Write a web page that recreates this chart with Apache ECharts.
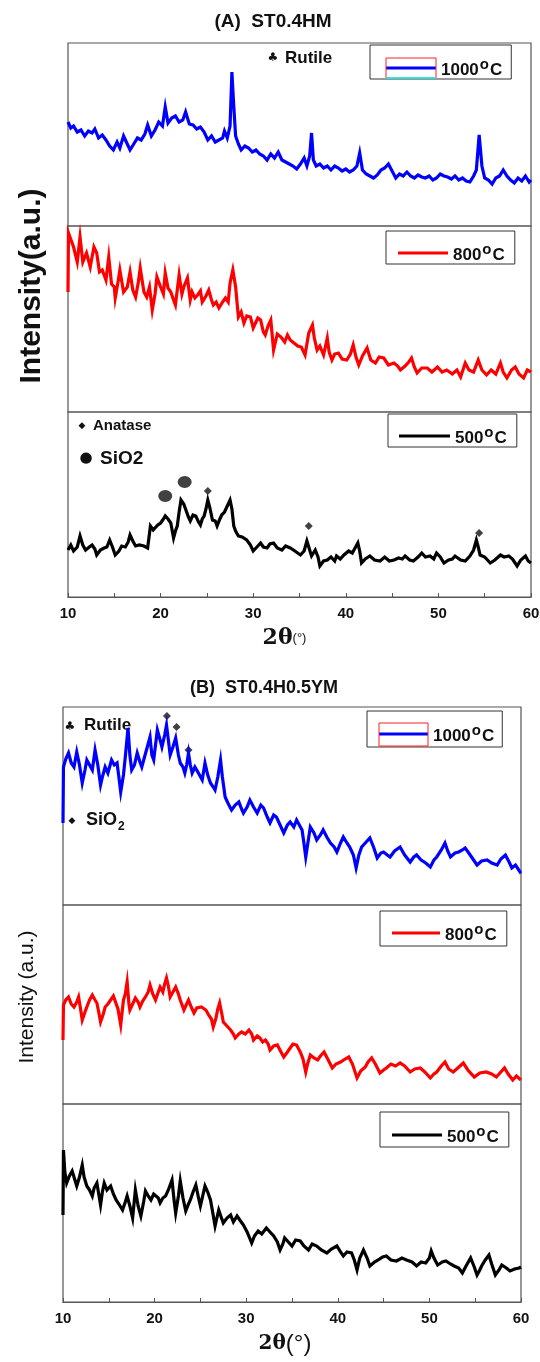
<!DOCTYPE html>
<html>
<head>
<meta charset="utf-8">
<script src="https://cdn.jsdelivr.net/npm/echarts@6/dist/echarts.min.js"></script>
<style>html,body{margin:0;background:#fff}#main{width:540px;height:1362px}</style>
</head>
<body>
<div id="main"></div>
<script>
var FONT = 'Liberation Sans, Arial, sans-serif';

// intensities are read as pixels above the bottom edge of each frame
var a1000 = [[10,104],[10.3,98],[10.6,100],[11,94],[11.4,96],[11.8,90],[12.2,95],[12.6,93],[12.9,97],[13.3,88],[13.7,91],[14.1,86],[14.5,80],[14.9,76],[15.3,84],[15.6,78],[16,90],[16.3,84],[16.7,76],[17.1,82],[17.5,88],[17.9,86],[18.3,92],[18.6,101],[19,90],[19.4,96],[19.8,104],[20.2,100],[20.5,119],[20.8,103],[21.2,108],[21.6,110],[22,104],[22.4,106],[22.7,114],[23.1,102],[23.5,101],[23.9,97],[24.3,99],[24.7,94],[25.1,86],[25.5,90],[25.9,84],[26.3,86],[26.7,88],[26.9,95],[27.2,88],[27.5,100],[27.7,154],[27.9,120],[28.1,90],[28.4,82],[28.7,76],[29.1,80],[29.5,78],[29.9,74],[30.3,76],[30.7,72],[31.1,70],[31.5,66],[31.9,72],[32.3,68],[32.7,74],[33.1,66],[33.5,64],[33.9,62],[34.3,60],[34.7,57],[35.1,62],[35.5,68],[35.8,60],[36.1,70],[36.3,93],[36.5,66],[36.8,60],[37.2,62],[37.6,58],[38,60],[38.4,56],[38.8,60],[39.2,58],[39.6,55],[40,57],[40.4,54],[40.8,56],[41.2,60],[41.5,73],[41.8,56],[42.2,52],[42.6,50],[43,48],[43.4,51],[43.8,56],[44.2,58],[44.6,62],[45,55],[45.4,48],[45.8,52],[46.2,50],[46.6,54],[47,50],[47.4,48],[47.8,51],[48.2,49],[48.6,48],[49,50],[49.4,46],[49.8,48],[50.2,52],[50.6,50],[51,49],[51.4,47],[51.8,50],[52.2,46],[52.6,48],[53,45],[53.4,44],[53.8,50],[54.1,56],[54.4,91],[54.7,60],[55,48],[55.4,46],[55.8,42],[56.2,48],[56.6,50],[57,56],[57.4,50],[57.8,46],[58.2,43],[58.6,48],[59,45],[59.4,50],[59.8,44],[60,46]];
var a800 = [[10,120],[10.05,179],[10.6,165],[11,150],[11.3,175],[11.6,150],[12,159],[12.4,145],[12.8,165],[13.1,159],[13.4,140],[13.7,142],[14.1,132],[14.4,155],[14.7,128],[15,125],[15.1,114],[15.4,130],[15.6,142],[16,120],[16.4,125],[16.7,140],[17,122],[17.3,115],[17.6,130],[17.8,144],[18.2,120],[18.5,115],[18.8,125],[19.1,102],[19.4,118],[19.6,135],[20,125],[20.3,118],[20.5,139],[20.8,124],[21.1,120],[21.4,112],[21.6,107],[22,137],[22.3,118],[22.5,125],[22.9,134],[23.2,112],[23.4,120],[23.7,114],[24,117],[24.3,121],[24.5,110],[24.9,116],[25.2,122],[25.5,112],[25.7,107],[26,110],[26.3,104],[26.7,110],[27,114],[27.3,110],[27.5,129],[27.8,142],[28.1,125],[28.4,95],[28.7,100],[29,89],[29.3,96],[29.7,95],[30,84],[30.2,82],[30.5,94],[30.8,92],[31.1,80],[31.3,77],[31.6,86],[31.9,92],[32.2,62],[32.6,78],[33,75],[33.4,70],[33.7,77],[34,72],[34.4,69],[34.8,66],[35.2,65],[35.6,57],[36,79],[36.4,87],[36.6,74],[36.9,62],[37.2,66],[37.6,57],[38,74],[38.2,60],[38.5,52],[38.8,58],[39.2,59],[39.6,53],[40.1,52],[40.5,58],[40.8,67],[41.1,55],[41.4,47],[41.8,56],[42.3,64],[42.7,52],[43.2,49],[43.6,55],[44.1,54],[44.6,47],[45.2,49],[45.6,46],[45.9,42],[46.4,46],[46.8,50],[47.1,54],[47.4,45],[47.7,39],[48.2,44],[48.8,44],[49.3,40],[49.9,45],[50.4,40],[50.9,42],[51.5,38],[52,42],[52.4,35],[52.9,49],[53.3,42],[53.8,40],[54.3,52],[54.7,42],[55.2,37],[55.7,42],[56.2,38],[56.7,49],[57,40],[57.4,34],[57.9,42],[58.3,45],[58.7,38],[59.2,34],[59.6,42],[60,40]];
var a500 = [[10,47],[10.3,52],[10.6,46],[11,50],[11.3,61],[11.6,52],[11.9,47],[12.3,50],[12.6,52],[12.9,48],[13.1,42],[13.5,47],[13.9,49],[14.2,50],[14.5,57],[14.8,50],[15.1,42],[15.5,46],[15.8,51],[16.2,50],[16.5,55],[16.7,62],[17,56],[17.3,51],[17.7,52],[18.2,51],[18.6,49],[18.9,71],[19.2,67],[19.4,69],[19.7,72],[20,74],[20.3,78],[20.5,81],[20.8,78],[21.1,74],[21.4,59],[21.6,66],[21.8,71],[22,85],[22.2,97],[22.5,93],[22.7,91],[23,80],[23.2,76],[23.5,82],[23.8,81],[24.1,75],[24.3,72],[24.5,78],[24.7,81],[24.9,88],[25.1,97],[25.3,90],[25.6,77],[25.9,76],[26.1,71],[26.4,78],[26.6,82],[26.9,85],[27.2,91],[27.5,97],[27.7,88],[27.9,71],[28.1,66],[28.4,61],[28.8,60],[29.3,57],[29.7,52],[30,46],[30.4,50],[30.8,54],[31.1,50],[31.5,49],[31.8,53],[32.2,54],[32.6,49],[33.1,47],[33.5,51],[34,49],[34.5,46],[35.1,42],[35.5,46],[35.8,56],[36.1,47],[36.3,41],[36.7,47],[37,40],[37.2,31],[37.6,36],[38,37],[38.4,40],[38.8,36],[39,41],[39.4,38],[39.8,42],[40.3,46],[40.7,44],[41,49],[41.3,54],[41.5,46],[41.7,34],[42.1,38],[42.6,41],[43.1,37],[43.7,36],[44.2,40],[44.7,36],[45.2,37],[45.7,39],[46.1,38],[46.4,41],[46.9,37],[47.3,36],[47.8,40],[48.2,44],[48.6,40],[49.1,41],[49.5,38],[49.8,44],[50.2,40],[50.6,34],[51.1,37],[51.5,38],[51.8,41],[52.4,37],[52.9,36],[53.4,41],[53.8,47],[54.1,57],[54.3,50],[54.5,42],[55,40],[55.3,37],[55.6,34],[56.1,37],[56.7,42],[57.1,40],[57.6,41],[58,38],[58.5,31],[58.9,37],[59.4,41],[59.7,36],[60,34]];
var b1000 = [[10,82],[10.05,138],[10.3,146],[10.6,152],[10.9,142],[11.2,138],[11.5,153],[11.8,140],[12.1,122],[12.4,135],[12.6,145],[12.9,140],[13.2,135],[13.5,155],[13.8,140],[14.1,120],[14.3,128],[14.6,138],[14.9,132],[15.3,145],[15.6,140],[15.9,142],[16.1,128],[16.3,113],[16.6,130],[16.8,148],[17.1,177],[17.3,150],[17.5,135],[17.8,140],[18.1,152],[18.4,143],[18.6,138],[18.9,148],[19.2,158],[19.5,168],[19.7,150],[19.9,145],[20.1,160],[20.3,175],[20.6,165],[20.8,158],[21.1,170],[21.3,180],[21.5,165],[21.7,150],[22,158],[22.3,167],[22.6,150],[22.8,142],[23.1,138],[23.3,132],[23.5,140],[23.7,152],[23.9,140],[24.1,132],[24.4,138],[24.6,135],[24.9,130],[25.2,125],[25.5,142],[25.8,130],[26.1,122],[26.4,118],[26.6,115],[26.9,128],[27.2,145],[27.4,128],[27.7,108],[28,102],[28.4,95],[28.8,100],[29.2,103],[29.5,96],[29.7,92],[30.1,98],[30.4,105],[30.8,98],[31.2,92],[31.6,100],[31.9,97],[32.3,88],[32.6,82],[33,90],[33.3,88],[33.7,80],[34.1,72],[34.5,80],[34.8,83],[35.2,78],[35.5,85],[35.8,80],[36.1,75],[36.3,62],[36.5,48],[36.7,60],[37,78],[37.4,72],[37.7,65],[38.1,70],[38.4,75],[38.8,68],[39.2,62],[39.6,58],[39.9,53],[40.3,62],[40.6,68],[41,62],[41.3,58],[41.7,50],[42,37],[42.3,50],[42.6,58],[43,62],[43.5,67],[43.9,58],[44.3,47],[44.7,52],[45,53],[45.4,50],[45.7,48],[46.2,54],[46.8,58],[47.3,50],[47.9,43],[48.3,48],[48.6,50],[49.1,45],[49.6,42],[50.1,38],[50.5,45],[50.8,48],[51.3,55],[51.7,62],[52,54],[52.3,48],[52.8,52],[53.2,53],[53.6,55],[53.9,57],[54.3,52],[54.6,48],[54.9,44],[55.2,40],[55.7,44],[56.3,45],[56.8,42],[57.4,40],[57.8,46],[58.3,50],[58.7,43],[59,37],[59.4,40],[59.9,33],[60,34]];
var b800 = [[10,64],[10.05,99],[10.3,104],[10.6,107],[10.9,100],[11.2,97],[11.5,102],[11.7,107],[11.9,96],[12.1,84],[12.4,92],[12.6,97],[12.9,104],[13.2,109],[13.5,104],[13.7,101],[13.9,92],[14.1,82],[14.4,90],[14.6,97],[14.9,100],[15.2,104],[15.5,108],[15.7,109],[16,95],[16.3,79],[16.6,104],[16.8,110],[17,122],[17.2,100],[17.3,94],[17.6,100],[17.9,106],[18.2,102],[18.4,97],[18.7,103],[19,107],[19.3,112],[19.5,119],[19.8,110],[20.1,104],[20.4,112],[20.6,117],[20.9,112],[21.1,120],[21.3,126],[21.5,118],[21.7,107],[22,112],[22.3,117],[22.6,110],[22.8,104],[23.2,94],[23.5,100],[23.7,104],[24,97],[24.3,91],[24.6,96],[24.8,94],[25.1,97],[25.3,99],[25.6,94],[25.9,89],[26.2,85],[26.4,77],[26.7,86],[26.9,95],[27.1,101],[27.3,92],[27.5,82],[27.9,78],[28.3,74],[28.6,70],[28.8,66],[29.2,70],[29.5,72],[29.9,70],[30.3,74],[30.6,70],[30.8,64],[31.2,68],[31.5,66],[31.8,62],[32.1,64],[32.4,60],[32.6,54],[33,58],[33.4,59],[33.8,52],[34.1,47],[34.5,52],[34.8,56],[35.1,60],[35.5,59],[35.9,52],[36.2,45],[36.5,32],[36.7,40],[37,49],[37.4,46],[37.8,44],[38.1,48],[38.5,52],[38.9,45],[39.4,36],[39.8,40],[40.3,42],[40.8,45],[41.2,47],[41.6,40],[42.1,26],[42.5,33],[43,37],[43.3,42],[43.7,46],[44.1,40],[44.6,31],[45,34],[45.3,36],[45.8,40],[46.3,38],[46.8,41],[47.3,38],[47.9,32],[48.4,35],[49,36],[49.5,32],[50.1,26],[50.5,30],[50.8,32],[51.3,38],[51.7,42],[52.1,35],[52.6,32],[53.1,36],[53.7,41],[54.2,34],[54.9,27],[55.5,31],[56.2,32],[56.8,30],[57.3,27],[57.8,32],[58.2,36],[58.6,30],[59.1,24],[59.5,28],[60,24]];
var b500 = [[10,87],[10.05,152],[10.2,130],[10.4,119],[10.7,126],[11,131],[11.3,122],[11.5,116],[11.8,125],[12.1,137],[12.3,125],[12.6,116],[12.9,112],[13.2,106],[13.4,114],[13.7,119],[13.9,108],[14.1,97],[14.3,110],[14.5,119],[14.8,112],[15.2,116],[15.5,108],[15.8,102],[16.1,98],[16.5,92],[16.8,100],[17,106],[17.3,96],[17.6,84],[17.9,112],[18.2,96],[18.5,86],[18.8,100],[19,111],[19.3,106],[19.6,102],[19.9,108],[20.1,109],[20.4,104],[20.6,99],[20.9,104],[21.2,106],[21.5,112],[21.9,122],[22.1,104],[22.3,89],[22.6,106],[22.8,121],[23.1,104],[23.4,91],[23.7,98],[23.9,102],[24.2,110],[24.5,117],[24.8,104],[25,96],[25.3,108],[25.5,116],[25.8,110],[26.1,102],[26.3,92],[26.6,76],[26.8,84],[27,92],[27.3,84],[27.5,79],[27.9,84],[28.3,87],[28.6,80],[29,86],[29.3,82],[29.7,77],[30.1,70],[30.6,59],[30.9,66],[31.3,71],[31.7,68],[32.2,74],[32.6,70],[33,66],[33.4,60],[33.7,52],[34,58],[34.2,64],[34.6,60],[35,56],[35.4,62],[35.9,61],[36.3,56],[36.8,52],[37.2,58],[37.7,56],[38.2,52],[38.8,49],[39.3,53],[39.9,56],[40.3,50],[40.6,46],[41,50],[41.5,49],[41.8,42],[42.1,32],[42.4,44],[42.8,52],[43.2,44],[43.5,36],[44,40],[44.4,42],[44.9,45],[45.3,46],[45.8,42],[46.4,41],[47,44],[47.5,42],[48.1,40],[48.6,36],[49.1,40],[49.6,39],[50,44],[50.2,51],[50.5,44],[50.9,37],[51.4,40],[51.8,41],[52.3,38],[52.7,36],[53.2,34],[53.6,29],[54,36],[54.5,44],[54.9,35],[55.2,27],[55.5,32],[55.7,36],[56.1,42],[56.5,47],[56.8,38],[57.2,27],[57.6,32],[57.9,37],[58.4,34],[58.8,31],[59.3,33],[59.8,34],[60,35]];

// phase markers above the peaks: [2theta, height, kind]
var aTopMarks = [[27.9,165,'rutile'],[36.0,107,'rutile'],[42.1,84,'rutile'],[54.4,107,'rutile']];
var aBotMarks = [[20.5,101,'sio2'],[22.6,115,'sio2'],[25.1,106,'anatase'],[27.8,114,'rutile'],[36.0,71,'anatase'],[54.4,64,'anatase']];
var bTopMarks = [[21.35,189,'anatase'],[22.4,178,'anatase'],[23.7,155,'anatase'],[27.5,154,'rutile'],[36.3,93,'rutile'],[54.0,73,'rutile']];

var xTicks = [10, 20, 30, 40, 50, 60];
var temps = {A1000: '1000', A800: '800', A500: '500', B1000: '1000', B800: '800', B500: '500'};

var myChart = echarts.init(document.getElementById('main'));

// frames: A uses left 68 .. 531, B uses left 63 .. 521
var frames = [
	{left: 68, right: 9, top: 43, height: 183, ymax: 183},
	{left: 68, right: 9, top: 226, height: 186, ymax: 186},
	{left: 68, right: 9, top: 412, height: 185, ymax: 185},
	{left: 63, right: 19, top: 707, height: 198, ymax: 198},
	{left: 63, right: 19, top: 905, height: 199, ymax: 199},
	{left: 63, right: 19, top: 1104, height: 198, ymax: 198}
];

var grids = [], xAxes = [], yAxes = [];
frames.forEach(function(f, i){
	var bottomOne = (i === 2 || i === 5);
	grids.push({left: f.left, right: f.right, top: f.top, height: f.height,
		outerBoundsMode: 'none', containLabel: false,
		show: true, borderColor: '#555', borderWidth: 1.2, backgroundColor: 'transparent'});
	xAxes.push({
		type: 'value', gridIndex: i, min: 10, max: 60, interval: 10,
		axisLine: {show: bottomOne, lineStyle: {color: '#555', width: 1.2}},
		axisTick: {show: bottomOne, inside: true, length: 4, lineStyle: {color: '#555'}},
		minorTick: {show: bottomOne, splitNumber: 2, length: 4, lineStyle: {color: '#555'}},
		splitLine: {show: false},
		axisLabel: {show: bottomOne, fontFamily: FONT, fontWeight: 'bold', fontSize: 15, color: '#111', margin: 9,
			formatter: function(v){ return xTicks.indexOf(v) >= 0 ? String(v) : ''; }},
		name: bottomOne ? '{t|2θ}{d|(°)}' : '',
		nameLocation: 'middle',
		nameGap: 30,
		nameTextStyle: i === 2 ?
			{padding: [0, 30, 0, 0], rich: {t: {fontFamily: 'DejaVu Serif, serif', fontWeight: 'bold', fontSize: 22, color: '#111'},
				d: {fontFamily: FONT, fontSize: 13, color: '#111'}}} :
			{padding: [0, 14, 0, 0], rich: {t: {fontFamily: 'DejaVu Serif, serif', fontWeight: 'bold', fontSize: 20, color: '#111'},
				d: {fontFamily: FONT, fontSize: 24, color: '#111'}}}
	});
	yAxes.push({type: 'value', gridIndex: i, min: 0, max: f.ymax, show: false});
});

var lines = [
	{name: 'A1000', data: a1000, color: '#0000ff'},
	{name: 'A800', data: a800, color: '#ff0000'},
	{name: 'A500', data: a500, color: '#000000'},
	{name: 'B1000', data: b1000, color: '#0000ff'},
	{name: 'B800', data: b800, color: '#ff0000'},
	{name: 'B500', data: b500, color: '#000000'}
];

var series = lines.map(function(l, i){
	return {
		name: l.name, type: 'line', xAxisIndex: i, yAxisIndex: i,
		symbol: 'none', animation: false,
		color: l.color,
		lineStyle: {color: l.color, width: 3.2, join: 'miter'},
		data: l.data
	};
});

function markSeries(marks, idx){
	return {
		type: 'scatter', xAxisIndex: idx, yAxisIndex: idx, silent: true, animation: false,
		data: marks.map(function(m){
			if (m[2] === 'rutile') {
				return {value: [m[0], m[1]], symbolSize: 1, itemStyle: {opacity: 0},
					label: {show: true, position: 'inside', formatter: '♣', fontSize: 13, color: '#111', fontFamily: 'DejaVu Sans'}};
			}
			if (m[2] === 'sio2') {
				return {value: [m[0], m[1]], symbol: 'circle', symbolSize: [14, 12], itemStyle: {color: '#111'}};
			}
			return {value: [m[0], m[1]], symbol: 'diamond', symbolSize: 8, itemStyle: {color: '#111'}};
		})
	};
}
series.push(markSeries(aTopMarks, 0));
series.push(markSeries(aBotMarks, 2));
series.push(markSeries(bTopMarks, 3));

var legendRich = {
	n: {fontFamily: FONT, fontWeight: 'bold', fontSize: 17, color: '#111', lineHeight: 22, verticalAlign: 'bottom'},
	o: {fontFamily: FONT, fontWeight: 'bold', fontSize: 15, color: '#111', lineHeight: 22, verticalAlign: 'top', padding: [0, 1, 0, 1]}
};
function legendBox(name, left, top, pad, w){
	return {
		data: [name], left: left, top: top, orient: 'horizontal',
		icon: 'rect', itemWidth: w, itemHeight: 3, itemGap: 0,
		padding: pad,
		borderColor: '#333', borderWidth: 1, selectedMode: false,
		formatter: function(n){ return '{n|' + temps[n] + '}{o|o}{n|C}'; },
		textStyle: {rich: legendRich, padding: [0, 0, 0, 0]}
	};
}

var option = {
	backgroundColor: '#fff',
	animation: false,
	grid: grids,
	xAxis: xAxes,
	yAxis: yAxes,
	legend: [
		legendBox('A1000', 370, 45, [12, 9, 0, 16], 50),
		legendBox('A800', 386, 231, [11, 10, 0, 12], 50),
		legendBox('A500', 388, 414, [11, 10, 0, 11], 51),
		legendBox('B1000', 367, 711, [12, 8, 2, 12], 49),
		legendBox('B800', 380, 911, [11, 10, 2, 12], 48),
		legendBox('B500', 380, 1112, [12, 10, 1, 12], 50)
	],
	graphic: [
		{type: 'text', x: 273, y: 22, style: {text: '(A)  ST0.4HM', fontFamily: FONT, fontWeight: 'bold', fontSize: 19, fill: '#111', align: 'center', verticalAlign: 'middle'}},
		{type: 'text', x: 264, y: 688, style: {text: '(B)  ST0.4H0.5YM', fontFamily: FONT, fontWeight: 'bold', fontSize: 18, fill: '#111', align: 'center', verticalAlign: 'middle'}},
		{type: 'text', x: 32, y: 286, rotation: Math.PI / 2, style: {text: 'Intensity(a.u.)', fontFamily: FONT, fontWeight: 'bold', fontSize: 30, fill: '#111', align: 'center', verticalAlign: 'middle'}},
		{type: 'text', x: 27, y: 997, rotation: Math.PI / 2, style: {text: 'Intensity (a.u.)', fontFamily: FONT, fontSize: 21, fill: '#111', align: 'center', verticalAlign: 'middle'}},
		// panel A key
		{type: 'text', x: 273, y: 58, style: {text: '♣', fontFamily: 'DejaVu Sans', fontSize: 12, fill: '#111', align: 'center', verticalAlign: 'middle'}},
		{type: 'text', x: 285, y: 58, style: {text: 'Rutile', fontFamily: FONT, fontWeight: 'bold', fontSize: 17, fill: '#111', align: 'left', verticalAlign: 'middle'}},
		{type: 'text', x: 82, y: 426, style: {text: '◆', fontFamily: 'DejaVu Sans', fontSize: 9, fill: '#111', align: 'center', verticalAlign: 'middle'}},
		{type: 'text', x: 93, y: 426, style: {text: 'Anatase', fontFamily: FONT, fontWeight: 'bold', fontSize: 15, fill: '#111', align: 'left', verticalAlign: 'middle'}},
		{type: 'text', x: 86, y: 458, style: {text: '●', fontFamily: 'DejaVu Sans', fontSize: 15, fill: '#111', align: 'center', verticalAlign: 'middle'}},
		{type: 'text', x: 100, y: 459, style: {text: 'SiO2', fontFamily: FONT, fontWeight: 'bold', fontSize: 19, fill: '#111', align: 'left', verticalAlign: 'middle'}},
		// panel B key
		{type: 'text', x: 70, y: 727, style: {text: '♣', fontFamily: 'DejaVu Sans', fontSize: 12, fill: '#111', align: 'center', verticalAlign: 'middle'}},
		{type: 'text', x: 84, y: 725, style: {text: 'Rutile', fontFamily: FONT, fontWeight: 'bold', fontSize: 17, fill: '#111', align: 'left', verticalAlign: 'middle'}},
		{type: 'text', x: 72, y: 821, style: {text: '◆', fontFamily: 'DejaVu Sans', fontSize: 9, fill: '#111', align: 'center', verticalAlign: 'middle'}},
		{type: 'text', x: 86, y: 822, style: {text: '{a|SiO}{s|2}', fontFamily: FONT, fill: '#111', align: 'left', verticalAlign: 'middle',
			rich: {a: {fontFamily: FONT, fontWeight: 'bold', fontSize: 18, fill: '#111', lineHeight: 22, verticalAlign: 'top'},
				s: {fontFamily: FONT, fontWeight: 'bold', fontSize: 12, fill: '#111', lineHeight: 22, verticalAlign: 'bottom', padding: [10, 0, 0, 1]}}}},
		// red outline boxes drawn around the 1000 C key samples
		{type: 'rect', z: 100, shape: {x: 386, y: 58, width: 50, height: 20}, style: {fill: 'none', stroke: '#ff2020', lineWidth: 1}},
		{type: 'line', z: 101, shape: {x1: 386, y1: 78, x2: 436, y2: 78}, style: {stroke: '#00ffff', lineWidth: 1.5}},
		{type: 'rect', z: 100, shape: {x: 379, y: 723, width: 49, height: 23}, style: {fill: 'none', stroke: '#ff2020', lineWidth: 1}}
	],
	series: series
};

myChart.setOption(option);
</script>
</body>
</html>
